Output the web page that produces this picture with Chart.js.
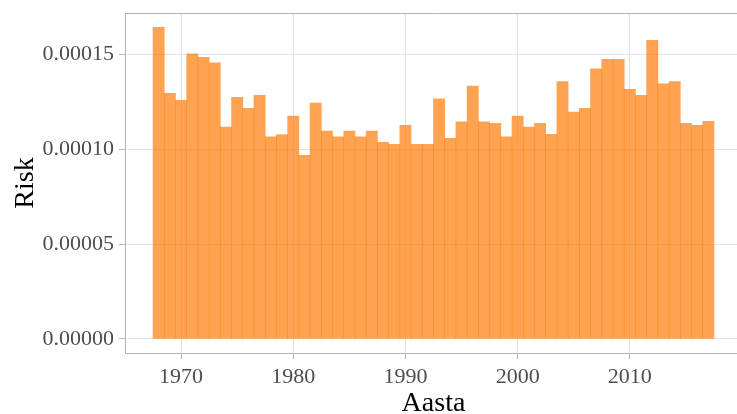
<!DOCTYPE html>
<html>
<head>
<meta charset="utf-8">
<script src="https://cdn.jsdelivr.net/npm/chart.js@4"></script>
<style>
  html, body { margin: 0; padding: 0; background: #fff; overflow: hidden; width: 737px; height: 414px; }
  #wrap { position: absolute; left: 0; top: 0; width: 760px; height: 414px; }
</style>
</head>
<body>
<div id="wrap"><canvas id="riskChart"></canvas></div>
<script>
var years = [1968, 1969, 1970, 1971, 1972, 1973, 1974, 1975, 1976, 1977,
  1978, 1979, 1980, 1981, 1982, 1983, 1984, 1985, 1986, 1987,
  1988, 1989, 1990, 1991, 1992, 1993, 1994, 1995, 1996, 1997,
  1998, 1999, 2000, 2001, 2002, 2003, 2004, 2005, 2006, 2007,
  2008, 2009, 2010, 2011, 2012, 2013, 2014, 2015, 2016, 2017]

var risk = [0.0001642, 0.0001295, 0.0001258, 0.0001503, 0.0001484, 0.0001456, 0.0001117, 0.0001273, 0.0001215, 0.0001284,
  0.0001066, 0.0001077, 0.0001175, 0.0000968, 0.0001243, 0.0001096, 0.0001066, 0.0001096, 0.0001066, 0.0001096,
  0.0001036, 0.0001026, 0.0001126, 0.0001026, 0.0001026, 0.0001265, 0.0001057, 0.0001145, 0.0001333, 0.0001145,
  0.0001136, 0.0001066, 0.0001175, 0.0001117, 0.0001136, 0.0001078, 0.0001356, 0.0001196, 0.0001215, 0.0001424,
  0.0001474, 0.0001474, 0.0001316, 0.0001284, 0.0001574, 0.0001345, 0.0001356, 0.0001136, 0.0001126, 0.0001147]

var xTicks = [1970, 1980, 1990, 2000, 2010]
var yTicks = [0, 0.00005, 0.0001, 0.00015]

const gridColor = '#e3e3e3'
const borderColor = '#b3b3b3'
const barColor = 'rgba(255, 128, 14, 0.72)'
const fontFamily = "'Liberation Serif', 'DejaVu Serif', serif"

// panel border on top (ggplot theme_light look)
var panelBorder = {
  id: 'panelBorder',
  afterDraw: function(chart) {
    var a = chart.chartArea
    var c = chart.ctx
    c.save()
    c.strokeStyle = borderColor
    c.lineWidth = 1
    c.beginPath()
    c.moveTo(a.left, a.top + 0.5)
    c.lineTo(a.right, a.top + 0.5)
    c.stroke()
    c.restore()
  }
}

var points = []
for (var i = 0; i < years.length; i++) {
  points.push({ x: years[i], y: risk[i] })
}

var ctx = document.getElementById('riskChart')

var riskChart = new Chart(ctx, {
  type: 'bar',
  data: {
    datasets: [{
      label: 'Risk',
      data: points,
      backgroundColor: barColor,
      borderWidth: 0,
      barPercentage: 1,
      categoryPercentage: 1
    }]
  },
  options: {
    responsive: true,
    maintainAspectRatio: false,
    animation: false,
    layout: { padding: { left: 0, right: 18, top: 13, bottom: 0 } },
    plugins: {
      legend: { display: false },
      tooltip: { enabled: false }
    },
    scales: {
      x: {
        type: 'linear',
        min: 1965,
        max: 2020,
        offset: false,
        afterBuildTicks: function(scale) {
          scale.ticks = xTicks.map(function(v) { return { value: v } })
        },
        afterFit: function(scale) {
          scale.height = 61
          scale.paddingLeft = 0
          scale.paddingRight = 0
        },
        grid: { color: gridColor, offset: false, tickLength: 6, tickColor: borderColor },
        border: { color: borderColor, width: 1 },
        ticks: {
          color: '#4d4d4d',
          padding: 5,
          maxRotation: 0,
          font: { family: fontFamily, size: 22 },
          callback: function(v) { return String(v) }
        },
        title: {
          display: true,
          text: 'Aasta',
          color: '#000',
          padding: { top: 0, bottom: 0 },
          font: { family: fontFamily, size: 28, lineHeight: 0.72 }
        }
      },
      y: {
        min: -0.0000074,
        max: 0.0001718,
        afterBuildTicks: function(scale) {
          scale.ticks = yTicks.map(function(v) { return { value: v } })
        },
        afterFit: function(scale) {
          scale.width = 125
          scale.paddingTop = 0
          scale.paddingBottom = 0
        },
        grid: { color: gridColor, tickLength: 6, tickColor: borderColor },
        border: { color: borderColor, width: 1 },
        ticks: {
          color: '#4d4d4d',
          padding: 5,
          font: { family: fontFamily, size: 22 },
          callback: function(v) { return v.toFixed(5) }
        },
        title: {
          display: true,
          text: 'Risk',
          color: '#000',
          padding: { top: 12, bottom: 0 },
          font: { family: fontFamily, size: 28, lineHeight: 1 }
        }
      }
    }
  },
  plugins: [panelBorder]
});
</script>
</body>
</html>
